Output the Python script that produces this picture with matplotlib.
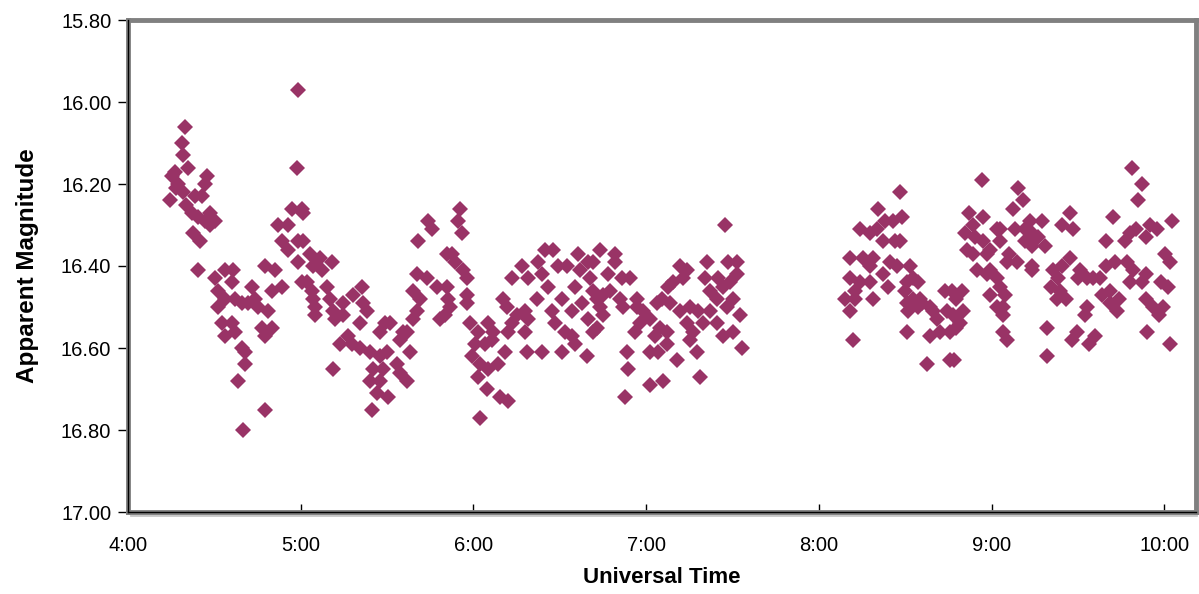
import matplotlib
matplotlib.use("Agg")
import matplotlib.pyplot as plt
from matplotlib.ticker import FixedLocator, FuncFormatter

plt.rcParams['font.family'] = ['Liberation Sans', 'DejaVu Sans']

# time in minutes after 4:00 UT, apparent magnitude
seg1_t = [19.8, 18.8, 19.1, 16.3, 20.8, 15.3, 17.4, 27.4, 26.7, 14.6, 19.1, 23.3,
          25.7, 22.2, 28.5, 30.2, 28.5, 22.6, 25.0, 16.7, 20.1, 24.3, 26.7]
seg1_mag = [16.06, 16.10, 16.13, 16.17, 16.16, 16.18, 16.20, 16.18, 16.20, 16.24, 16.22, 16.23,
            16.23, 16.27, 16.27, 16.29, 16.30, 16.32, 16.34, 16.21, 16.25, 16.28, 16.29]

seg2_t = [59.0, 58.7, 24.3, 30.2, 33.7, 36.5, 36.1, 31.3, 33.7, 31.3,
          37.2, 39.6, 43.1, 44.1, 41.7, 45.1, 48.6, 32.6, 36.1, 33.7,
          37.2, 46.5, 50.0, 47.6, 39.6, 40.6, 40.6, 38.2, 47.6, 39.9,
          51.0, 47.6, 50.0, 53.5, 52.1, 55.6, 53.5, 55.6, 59.0, 56.9,
          60.4, 59.0, 60.4]
seg2_mag = [15.97, 16.16, 16.41, 16.43, 16.41, 16.41, 16.44, 16.46, 16.48, 16.50,
            16.48, 16.49, 16.45, 16.48, 16.49, 16.50, 16.51, 16.54, 16.54, 16.57,
            16.56, 16.55, 16.55, 16.57, 16.60, 16.61, 16.64, 16.68, 16.75, 16.80,
            16.41, 16.40, 16.46, 16.45, 16.30, 16.30, 16.34, 16.36, 16.34, 16.26,
            16.26, 16.39, 16.44]

seg3_t = [60.8, 104.2, 105.6, 100.7, 60.8, 63.2, 66.7, 70.8, 64.2, 67.4,
          62.2, 63.9, 69.1, 70.1, 64.2, 64.9, 64.9, 81.2, 78.1, 81.6,
          74.7, 71.2, 74.7, 83.0, 80.6, 71.9, 100.3, 103.8, 107.3, 99.0,
          101.4, 100.3, 99.0, 96.9, 89.2, 91.0, 87.5, 108.3, 76.4, 73.6,
          77.8, 80.6, 84.0, 87.5, 89.9, 95.5, 94.4, 97.9, 85.1, 88.5,
          84.0, 87.5, 93.4, 94.4, 96.9, 71.2, 86.5, 90.3, 84.7, 110.8]
seg3_mag = [16.27, 16.29, 16.31, 16.34, 16.34, 16.37, 16.38, 16.39, 16.40, 16.41,
            16.44, 16.46, 16.45, 16.48, 16.48, 16.50, 16.52, 16.45, 16.47, 16.49,
            16.49, 16.51, 16.52, 16.51, 16.54, 16.53, 16.42, 16.43, 16.45, 16.46,
            16.48, 16.51, 16.53, 16.56, 16.54, 16.54, 16.56, 16.53, 16.57, 16.59,
            16.59, 16.60, 16.61, 16.62, 16.61, 16.56, 16.58, 16.61, 16.65, 16.65,
            16.68, 16.68, 16.64, 16.66, 16.68, 16.65, 16.71, 16.72, 16.75, 16.37]

seg4_t = [115.3, 114.6, 116.0, 112.5, 113.5, 116.3, 117.7, 110.8, 111.1, 111.8,
          117.7, 117.7, 110.1, 118.7, 121.5, 125.0, 126.7, 120.5, 124.0, 126.4,
          119.4, 122.2, 125.0, 128.5, 130.9, 121.5, 124.6, 129.2, 131.9, 122.2,
          130.2, 131.6, 133.3, 136.8, 138.9, 142.4, 143.7, 142.0, 144.8, 147.6,
          145.8, 133.3, 135.1, 137.8, 138.9, 137.8, 131.9, 149.3, 152.4, 150.7,
          147.2, 148.3, 151.7, 154.2, 155.2, 138.5, 143.7, 150.7, 159.4, 156.3,
          156.9, 159.7, 155.2, 154.2, 157.6, 159.7]
seg4_mag = [16.26, 16.29, 16.32, 16.37, 16.39, 16.41, 16.43, 16.45, 16.48, 16.50,
            16.47, 16.49, 16.52, 16.54, 16.56, 16.54, 16.56, 16.59, 16.59, 16.58,
            16.62, 16.64, 16.65, 16.64, 16.61, 16.67, 16.70, 16.72, 16.73, 16.77,
            16.48, 16.50, 16.43, 16.40, 16.43, 16.39, 16.42, 16.48, 16.36, 16.36,
            16.45, 16.54, 16.52, 16.51, 16.53, 16.56, 16.56, 16.40, 16.40, 16.48,
            16.51, 16.54, 16.56, 16.57, 16.59, 16.61, 16.61, 16.61, 16.62, 16.37,
            16.41, 16.39, 16.45, 16.51, 16.49, 16.53]

seg5_t = [163.9, 169.1, 169.1, 161.5, 160.4, 166.7, 171.5, 174.3, 161.5, 162.8,
          164.9, 167.4, 163.9, 164.9, 162.8, 161.5, 170.8, 171.9, 176.7, 176.7,
          178.8, 177.8, 176.0, 181.2, 183.7, 185.4, 188.2, 184.7, 187.1, 187.1,
          183.0, 173.3, 173.6, 172.6, 181.2, 184.0, 190.6, 181.2, 185.8, 198.6,
          191.7, 192.7, 189.2, 187.5, 194.1, 191.7, 195.1, 197.9, 194.1, 196.2,
          195.1, 197.6, 201.0, 200.3, 202.1, 204.9, 208.3, 211.5, 211.5, 209.0,
          206.6, 204.5, 202.1, 199.7, 204.5, 206.6, 210.1, 208.0, 212.5, 210.1,
          213.2, 207.3]
seg5_mag = [16.36, 16.37, 16.39, 16.39, 16.43, 16.42, 16.43, 16.43, 16.46, 16.48,
            16.47, 16.46, 16.50, 16.52, 16.55, 16.56, 16.48, 16.50, 16.48, 16.50,
            16.51, 16.54, 16.56, 16.53, 16.49, 16.48, 16.49, 16.55, 16.56, 16.59,
            16.57, 16.61, 16.65, 16.72, 16.61, 16.61, 16.63, 16.69, 16.68, 16.67,
            16.40, 16.43, 16.44, 16.45, 16.41, 16.51, 16.50, 16.51, 16.54, 16.56,
            16.58, 16.61, 16.39, 16.43, 16.46, 16.43, 16.39, 16.39, 16.42, 16.44,
            16.45, 16.48, 16.51, 16.54, 16.54, 16.57, 16.48, 16.50, 16.52, 16.56,
            16.60, 16.30]

seg6_t = [296.5, 268.1, 260.4, 268.7, 265.6, 262.8, 260.1, 257.6, 254.2, 262.2,
          266.3, 268.1, 250.7, 255.2, 258.7, 264.6, 257.6, 262.2, 267.0, 250.7,
          254.2, 257.6, 252.4, 271.5, 272.6, 270.5, 274.3, 263.9, 269.8, 272.6,
          275.0, 249.0, 252.4, 258.7, 250.7, 270.5, 270.8, 274.3, 275.7, 278.5,
          279.5, 280.9, 281.9, 278.5, 283.7, 286.1, 289.6, 287.8, 284.4, 286.5,
          288.9, 289.9, 285.4, 287.8, 270.5, 277.4, 285.4, 287.1, 251.7, 292.3,
          296.9, 293.4, 301.7, 290.6, 294.1, 296.9, 291.3, 299.3, 293.4, 298.3,
          294.8, 299.3, 301.7, 298.3, 299.3, 302.8, 301.7, 303.8, 303.8]
seg6_mag = [16.19, 16.22, 16.26, 16.28, 16.29, 16.29, 16.31, 16.32, 16.31, 16.34,
            16.34, 16.34, 16.38, 16.38, 16.38, 16.39, 16.40, 16.42, 16.40, 16.43,
            16.44, 16.44, 16.46, 16.40, 16.43, 16.44, 16.44, 16.45, 16.46, 16.48,
            16.48, 16.48, 16.48, 16.48, 16.51, 16.49, 16.51, 16.50, 16.49, 16.50,
            16.51, 16.53, 16.56, 16.57, 16.46, 16.46, 16.46, 16.48, 16.51, 16.52,
            16.54, 16.51, 16.56, 16.55, 16.56, 16.64, 16.63, 16.63, 16.58, 16.27,
            16.28, 16.30, 16.31, 16.32, 16.33, 16.34, 16.36, 16.36, 16.37, 16.37,
            16.41, 16.41, 16.43, 16.42, 16.47, 16.45, 16.50, 16.52, 16.56]

seg7_t = [348.6, 352.4, 351.0, 309.0, 310.8, 307.3, 327.1, 324.3, 328.1, 342.0,
          362.5, 313.2, 317.4, 308.0, 311.5, 314.2, 316.0, 311.5, 313.9, 318.4,
          302.8, 302.8, 339.9, 346.2, 347.9, 350.3, 354.9, 357.3, 353.8, 306.2,
          305.2, 308.7, 313.9, 314.2, 327.1, 324.3, 321.2, 322.9, 320.8, 323.6,
          322.6, 326.0, 330.6, 329.9, 333.0, 335.1, 337.5, 339.9, 342.7, 346.9,
          349.0, 347.9, 304.5, 303.8, 305.2, 333.0, 332.3, 338.5, 341.0, 344.4,
          343.4, 341.0, 353.8, 352.4, 359.0, 361.1, 353.8, 355.9, 358.3, 359.4,
          354.1, 360.1, 361.8, 319.4, 319.1, 329.5, 327.8, 335.8, 334.0, 361.8]
seg7_mag = [16.16, 16.20, 16.24, 16.21, 16.24, 16.26, 16.27, 16.30, 16.31, 16.28,
            16.29, 16.29, 16.29, 16.31, 16.31, 16.32, 16.33, 16.34, 16.35, 16.35,
            16.31, 16.34, 16.34, 16.34, 16.32, 16.31, 16.30, 16.31, 16.33, 16.37,
            16.39, 16.39, 16.40, 16.41, 16.38, 16.40, 16.41, 16.43, 16.45, 16.46,
            16.48, 16.48, 16.41, 16.43, 16.43, 16.43, 16.43, 16.40, 16.39, 16.39,
            16.41, 16.44, 16.47, 16.50, 16.58, 16.50, 16.52, 16.47, 16.46, 16.48,
            16.51, 16.49, 16.42, 16.44, 16.44, 16.45, 16.48, 16.50, 16.52, 16.50,
            16.56, 16.37, 16.39, 16.55, 16.62, 16.56, 16.58, 16.57, 16.59, 16.59]

x_ticks = [240, 300, 360, 420, 480, 540, 600]   # minutes after 0:00 UT
y_ticks = [15.8, 16.0, 16.2, 16.4, 16.6, 16.8, 17.0]

start = 240
times = seg1_t + seg2_t + seg3_t + seg4_t + seg5_t + seg6_t + seg7_t
mags = seg1_mag + seg2_mag + seg3_mag + seg4_mag + seg5_mag + seg6_mag + seg7_mag
times = [start + t for t in times]

fig = plt.figure(figsize=(11.99, 5.94), dpi=100)
ax = fig.add_axes([128 / 1199, 82 / 594, 1068 / 1199, 492 / 594])

ax.plot(times, mags, linestyle='none', marker='D', markersize=8.6,
        color='#993366', markeredgewidth=0)

ax.set_xlim(240, 611)
ax.set_ylim(17.0, 15.8)
ax.xaxis.set_major_locator(FixedLocator(x_ticks))
ax.xaxis.set_major_formatter(FuncFormatter(lambda v, p: f"{int(v) // 60}:{int(v) % 60:02d}"))
ax.yaxis.set_major_locator(FixedLocator(y_ticks))
ax.yaxis.set_major_formatter(FuncFormatter(lambda v, p: f"{v:.2f}"))

ax.tick_params(axis='x', direction='in', length=6, width=1, labelsize=14.5, pad=17, color='black')
ax.tick_params(axis='y', direction='out', length=7, width=1, labelsize=14.5, pad=5, color='black')

for s in ax.spines.values():
    s.set_color('#808080')
    s.set_linewidth(3.5)

# black axis lines + light shadow like the spreadsheet plot area
ax.plot([0, 0], [0, 1], transform=ax.transAxes, color='black', lw=1, clip_on=False, zorder=5)
ax.plot([0, 1], [0, 0], transform=ax.transAxes, color='black', lw=1, clip_on=False, zorder=5)
ax.plot([0.003, 1.0], [-0.007, -0.007], transform=ax.transAxes, color='#c8c8c8', lw=2, clip_on=False)

ax.set_xlabel('Universal Time', fontsize=16, fontweight='bold', labelpad=9)
ax.set_ylabel('Apparent Magnitude', fontsize=17.5, fontweight='bold', labelpad=16)

fig.savefig('out.png', dpi=100)
